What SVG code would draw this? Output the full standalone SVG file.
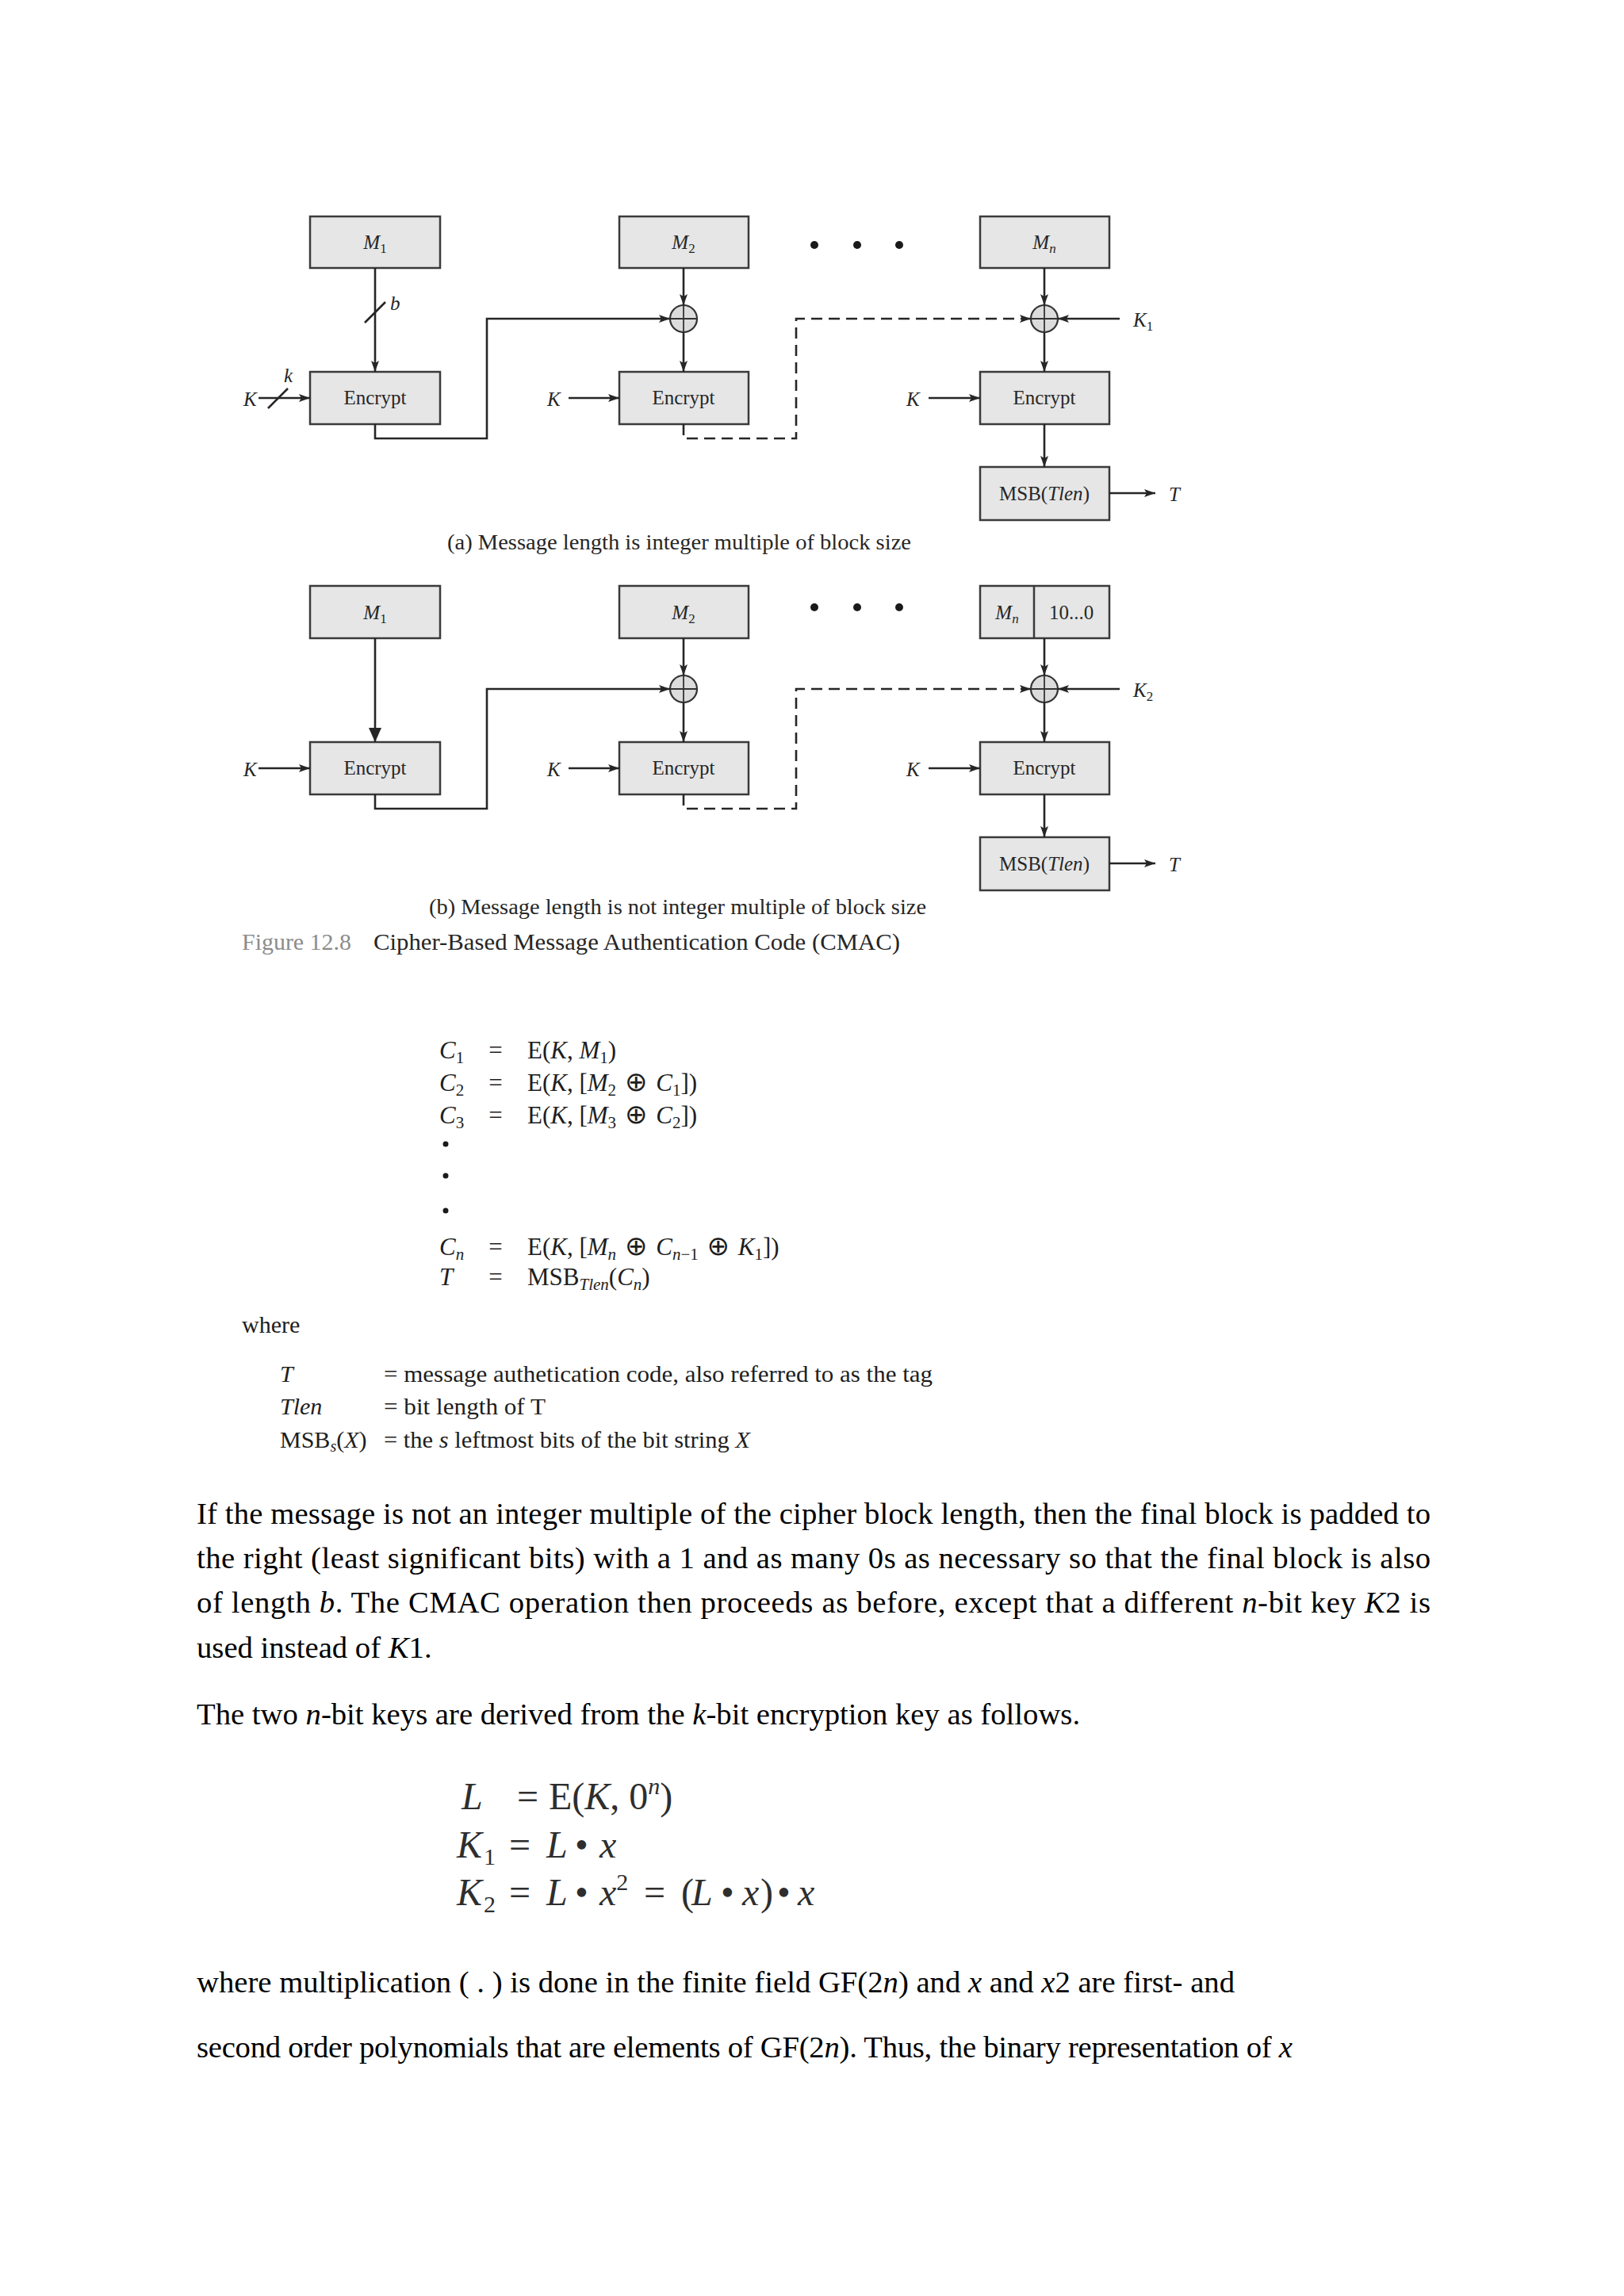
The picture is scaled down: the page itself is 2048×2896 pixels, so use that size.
<svg xmlns="http://www.w3.org/2000/svg" width="2048" height="2896" viewBox="0 0 2048 2896">
<defs>
<style>
.bg{fill:#ffffff}
.box{fill:#e6e6e6;stroke:#3a3a3a;stroke-width:2.5}
.ln{stroke:#262626;stroke-width:2.6;fill:none}
.dash{stroke-dasharray:14 8}
.xor{fill:#dcdcdc;stroke:#333;stroke-width:2.2}
.xl{stroke:#333;stroke-width:1.8}
.dt{font-family:"Liberation Serif","DejaVu Serif",serif;font-size:25px;fill:#262626}
.cap{font-family:"Liberation Serif","DejaVu Serif",serif;font-size:28px;fill:#262626}
.fig{font-family:"Liberation Serif","DejaVu Serif",serif;font-size:30px;fill:#262626}
.eq{font-family:"Liberation Serif","DejaVu Serif",serif;font-size:31px;fill:#1e1e1e}
.wh{font-family:"Liberation Serif","DejaVu Serif",serif;font-size:30px;fill:#1e1e1e}
.body{font-family:"Liberation Serif","DejaVu Serif",serif;font-size:38.7px;fill:#000}
.kf{font-family:"Liberation Serif","DejaVu Serif",serif;font-size:48px;fill:#2e2e2e}
.op{font-family:"DejaVu Sans",sans-serif;font-size:34px;font-style:normal}
.it{font-style:italic}
.up{font-style:normal}
.dot{fill:#1a1a1a}
</style>
<marker id="ah" viewBox="0 0 14 10" markerWidth="14" markerHeight="10" refX="14" refY="5" orient="auto" markerUnits="userSpaceOnUse">
<path d="M0,0 L14,5 L0,10 L3,5 z" fill="#262626"/>
</marker>
<marker id="ahb" viewBox="0 0 18 16" markerWidth="18" markerHeight="16" refX="18" refY="8" orient="auto" markerUnits="userSpaceOnUse">
<path d="M0,0 L18,8 L0,16 z" fill="#262626"/>
</marker>
</defs>
<rect class="bg" x="0" y="0" width="2048" height="2896"/>

<!-- ===== Diagram (a) ===== -->
<g id="a-M1"><rect class="box" x="391" y="273" width="164" height="65"/><text class="dt it" x="473" y="314" text-anchor="middle">M<tspan class="up" font-size="17" dy="5">1</tspan></text></g>
<g id="a-M2"><rect class="box" x="781" y="273" width="163" height="65"/><text class="dt it" x="862" y="314" text-anchor="middle">M<tspan class="up" font-size="17" dy="5">2</tspan></text></g>
<g id="a-Mn"><rect class="box" x="1236" y="273" width="163" height="65"/><text class="dt it" x="1317" y="314" text-anchor="middle">M<tspan font-size="17" dy="5">n</tspan></text></g>
<g id="a-dots"><circle class="dot" cx="1027" cy="309" r="5"/><circle class="dot" cx="1081" cy="309" r="5"/><circle class="dot" cx="1134" cy="309" r="5"/></g>
<g id="a-E1"><rect class="box" x="391" y="469" width="164" height="66"/><text class="dt" x="473" y="510" text-anchor="middle">Encrypt</text></g>
<g id="a-E2"><rect class="box" x="781" y="469" width="163" height="66"/><text class="dt" x="862" y="510" text-anchor="middle">Encrypt</text></g>
<g id="a-E3"><rect class="box" x="1236" y="469" width="163" height="66"/><text class="dt" x="1317" y="510" text-anchor="middle">Encrypt</text></g>
<g id="a-MSB"><rect class="box" x="1236" y="589" width="163" height="67"/><text class="dt" x="1317" y="631" text-anchor="middle">MSB(<tspan class="it">Tlen</tspan>)</text></g>
<g id="a-X2"><circle class="xor" cx="862" cy="402" r="17"/><line class="xl" x1="845" y1="402" x2="879" y2="402"/><line class="xl" x1="862" y1="385" x2="862" y2="419"/></g>
<g id="a-X3"><circle class="xor" cx="1317" cy="402" r="17"/><line class="xl" x1="1300" y1="402" x2="1334" y2="402"/><line class="xl" x1="1317" y1="385" x2="1317" y2="419"/></g>
<g id="a-labels">
<text class="dt it" x="307" y="512">K</text>
<text class="dt it" x="358" y="482" font-size="23">k</text>
<text class="dt it" x="492" y="391" font-size="23">b</text>
<text class="dt it" x="690" y="512">K</text>
<text class="dt it" x="1143" y="512">K</text>
<text class="dt it" x="1429" y="412">K<tspan class="up" font-size="17" dy="5">1</tspan></text>
<text class="dt it" x="1474" y="632">T</text>
</g>
<g id="a-connectors">
<line class="ln" x1="473" y1="338" x2="473" y2="469" marker-end="url(#ah)"/>
<line class="ln" x1="460" y1="407" x2="486" y2="381"/>
<line class="ln" x1="326" y1="502" x2="391" y2="502" marker-end="url(#ah)"/>
<line class="ln" x1="338" y1="515" x2="363" y2="490"/>
<path class="ln" d="M473,535 V553 H614 V402 H845" marker-end="url(#ah)"/>
<line class="ln" x1="862" y1="338" x2="862" y2="385" marker-end="url(#ah)"/>
<line class="ln" x1="862" y1="419" x2="862" y2="469" marker-end="url(#ah)"/>
<line class="ln" x1="717" y1="502" x2="781" y2="502" marker-end="url(#ah)"/>
<path class="ln dash" d="M862,535 V553 H1004 V402 H1300" marker-end="url(#ah)"/>
<line class="ln" x1="1317" y1="338" x2="1317" y2="385" marker-end="url(#ah)"/>
<line class="ln" x1="1412" y1="402" x2="1334" y2="402" marker-end="url(#ah)"/>
<line class="ln" x1="1317" y1="419" x2="1317" y2="469" marker-end="url(#ah)"/>
<line class="ln" x1="1171" y1="502" x2="1236" y2="502" marker-end="url(#ah)"/>
<line class="ln" x1="1317" y1="535" x2="1317" y2="589" marker-end="url(#ah)"/>
<line class="ln" x1="1399" y1="622" x2="1457" y2="622" marker-end="url(#ah)"/>
</g>
<text class="cap" x="564" y="693" textLength="585" lengthAdjust="spacingAndGlyphs">(a) Message length is integer multiple of block size</text>

<!-- ===== Diagram (b) ===== -->
<g id="b-M1"><rect class="box" x="391" y="739" width="164" height="66"/><text class="dt it" x="473" y="781" text-anchor="middle">M<tspan class="up" font-size="17" dy="5">1</tspan></text></g>
<g id="b-M2"><rect class="box" x="781" y="739" width="163" height="66"/><text class="dt it" x="862" y="781" text-anchor="middle">M<tspan class="up" font-size="17" dy="5">2</tspan></text></g>
<g id="b-Mn"><rect class="box" x="1236" y="739" width="163" height="66"/><line x1="1304" y1="739" x2="1304" y2="805" style="stroke:#3a3a3a;stroke-width:2.5"/><text class="dt it" x="1270" y="781" text-anchor="middle">M<tspan font-size="17" dy="5">n</tspan></text><text class="dt" x="1351" y="781" text-anchor="middle">10...0</text></g>
<g id="b-dots"><circle class="dot" cx="1027" cy="766" r="5"/><circle class="dot" cx="1081" cy="766" r="5"/><circle class="dot" cx="1134" cy="766" r="5"/></g>
<g id="b-E1"><rect class="box" x="391" y="936" width="164" height="66"/><text class="dt" x="473" y="977" text-anchor="middle">Encrypt</text></g>
<g id="b-E2"><rect class="box" x="781" y="936" width="163" height="66"/><text class="dt" x="862" y="977" text-anchor="middle">Encrypt</text></g>
<g id="b-E3"><rect class="box" x="1236" y="936" width="163" height="66"/><text class="dt" x="1317" y="977" text-anchor="middle">Encrypt</text></g>
<g id="b-MSB"><rect class="box" x="1236" y="1056" width="163" height="67"/><text class="dt" x="1317" y="1098" text-anchor="middle">MSB(<tspan class="it">Tlen</tspan>)</text></g>
<g id="b-X2"><circle class="xor" cx="862" cy="869" r="17"/><line class="xl" x1="845" y1="869" x2="879" y2="869"/><line class="xl" x1="862" y1="852" x2="862" y2="886"/></g>
<g id="b-X3"><circle class="xor" cx="1317" cy="869" r="17"/><line class="xl" x1="1300" y1="869" x2="1334" y2="869"/><line class="xl" x1="1317" y1="852" x2="1317" y2="886"/></g>
<g id="b-labels">
<text class="dt it" x="307" y="979">K</text>
<text class="dt it" x="690" y="979">K</text>
<text class="dt it" x="1143" y="979">K</text>
<text class="dt it" x="1429" y="879">K<tspan class="up" font-size="17" dy="5">2</tspan></text>
<text class="dt it" x="1474" y="1099">T</text>
</g>
<g id="b-connectors">
<line class="ln" x1="473" y1="805" x2="473" y2="936" marker-end="url(#ahb)"/>
<line class="ln" x1="326" y1="969" x2="391" y2="969" marker-end="url(#ah)"/>
<path class="ln" d="M473,1002 V1020 H614 V869 H845" marker-end="url(#ah)"/>
<line class="ln" x1="862" y1="805" x2="862" y2="852" marker-end="url(#ah)"/>
<line class="ln" x1="862" y1="886" x2="862" y2="936" marker-end="url(#ah)"/>
<line class="ln" x1="717" y1="969" x2="781" y2="969" marker-end="url(#ah)"/>
<path class="ln dash" d="M862,1002 V1020 H1004 V869 H1300" marker-end="url(#ah)"/>
<line class="ln" x1="1317" y1="805" x2="1317" y2="852" marker-end="url(#ah)"/>
<line class="ln" x1="1412" y1="869" x2="1334" y2="869" marker-end="url(#ah)"/>
<line class="ln" x1="1317" y1="886" x2="1317" y2="936" marker-end="url(#ah)"/>
<line class="ln" x1="1171" y1="969" x2="1236" y2="969" marker-end="url(#ah)"/>
<line class="ln" x1="1317" y1="1002" x2="1317" y2="1056" marker-end="url(#ah)"/>
<line class="ln" x1="1399" y1="1089" x2="1457" y2="1089" marker-end="url(#ah)"/>
</g>
<text class="cap" x="541" y="1153" textLength="627" lengthAdjust="spacingAndGlyphs">(b) Message length is not integer multiple of block size</text>
<text class="fig" x="305" y="1198" style="fill:#8c8c8c" textLength="138" lengthAdjust="spacingAndGlyphs">Figure 12.8</text>
<text class="fig" x="471" y="1198" textLength="664" lengthAdjust="spacingAndGlyphs">Cipher-Based Message Authentication Code (CMAC)</text>

<!-- ===== Equations ===== -->
<g id="equations">
<text class="eq it" x="554" y="1335">C<tspan class="up" font-size="21" dy="6">1</tspan></text>
<text class="eq" x="625" y="1335" text-anchor="middle">=</text>
<text class="eq" x="665" y="1335">E(<tspan class="it">K</tspan>, <tspan class="it">M</tspan><tspan font-size="21" dy="6">1</tspan><tspan dy="-6">)</tspan></text>

<text class="eq it" x="554" y="1376">C<tspan class="up" font-size="21" dy="6">2</tspan></text>
<text class="eq" x="625" y="1376" text-anchor="middle">=</text>
<text class="eq" x="665" y="1376">E(<tspan class="it">K</tspan>, [<tspan class="it">M</tspan><tspan font-size="21" dy="6">2</tspan><tspan class="op" dy="-6"> ⊕ </tspan><tspan class="it">C</tspan><tspan font-size="21" dy="6">1</tspan><tspan dy="-6">])</tspan></text>

<text class="eq it" x="554" y="1417">C<tspan class="up" font-size="21" dy="6">3</tspan></text>
<text class="eq" x="625" y="1417" text-anchor="middle">=</text>
<text class="eq" x="665" y="1417">E(<tspan class="it">K</tspan>, [<tspan class="it">M</tspan><tspan font-size="21" dy="6">3</tspan><tspan class="op" dy="-6"> ⊕ </tspan><tspan class="it">C</tspan><tspan font-size="21" dy="6">2</tspan><tspan dy="-6">])</tspan></text>

<circle class="dot" cx="562" cy="1443" r="3.5"/>
<circle class="dot" cx="562" cy="1483" r="3.5"/>
<circle class="dot" cx="562" cy="1527" r="3.5"/>

<text class="eq it" x="554" y="1583">C<tspan font-size="21" dy="6">n</tspan></text>
<text class="eq" x="625" y="1583" text-anchor="middle">=</text>
<text class="eq" x="665" y="1583">E(<tspan class="it">K</tspan>, [<tspan class="it">M</tspan><tspan class="it" font-size="21" dy="6">n</tspan><tspan class="op" dy="-6"> ⊕ </tspan><tspan class="it">C</tspan><tspan font-size="21" dy="6"><tspan class="it">n</tspan>−1</tspan><tspan class="op" dy="-6"> ⊕ </tspan><tspan class="it">K</tspan><tspan font-size="21" dy="6">1</tspan><tspan dy="-6">])</tspan></text>

<text class="eq it" x="554" y="1621">T</text>
<text class="eq" x="625" y="1621" text-anchor="middle">=</text>
<text class="eq" x="665" y="1621">MSB<tspan class="it" font-size="21" dy="6">Tlen</tspan><tspan dy="-6">(</tspan><tspan class="it">C</tspan><tspan class="it" font-size="21" dy="6">n</tspan><tspan dy="-6">)</tspan></text>
</g>

<!-- ===== where block ===== -->
<g id="where">
<text class="wh" x="305" y="1681">where</text>
<text class="wh it" x="353" y="1743">T</text>
<text class="wh" x="484" y="1743" textLength="692" lengthAdjust="spacingAndGlyphs">= message authetication code, also referred to as the tag</text>
<text class="wh it" x="353" y="1784">Tlen</text>
<text class="wh" x="484" y="1784" textLength="204" lengthAdjust="spacingAndGlyphs">= bit length of T</text>
<text class="wh" x="353" y="1826">MSB<tspan class="it" font-size="20" dy="5">s</tspan><tspan dy="-5">(</tspan><tspan class="it">X</tspan>)</text>
<text class="wh" x="484" y="1826" textLength="462" lengthAdjust="spacingAndGlyphs">= the <tspan class="it">s</tspan> leftmost bits of the bit string <tspan class="it">X</tspan></text>
</g>

<!-- ===== Body text ===== -->
<g id="paragraph1">
<text class="body" x="248" y="1922" textLength="1556" lengthAdjust="spacing">If the message is not an integer multiple of the cipher block length, then the final block is padded to</text>
<text class="body" x="248" y="1978" textLength="1556" lengthAdjust="spacing">the right (least significant bits) with a 1 and as many 0s as necessary so that the final block is also</text>
<text class="body" x="248" y="2034" textLength="1556" lengthAdjust="spacing">of length <tspan class="it">b</tspan>. The CMAC operation then proceeds as before, except that a different <tspan class="it">n</tspan>-bit key <tspan class="it">K</tspan>2 is</text>
<text class="body" x="248" y="2091">used instead of <tspan class="it">K</tspan>1.</text>
</g>
<text class="body" x="248" y="2175">The two <tspan class="it">n</tspan>-bit keys are derived from the <tspan class="it">k</tspan>-bit encryption key as follows.</text>

<g id="key-formulas">
<text class="kf" y="2282"><tspan x="582" class="it">L</tspan><tspan x="652">=</tspan><tspan x="692">E(</tspan><tspan class="it">K</tspan><tspan>, 0</tspan><tspan class="it" font-size="30" dy="-19">n</tspan><tspan dy="19">)</tspan></text>
<text class="kf" y="2343"><tspan x="576" class="it">K</tspan><tspan font-size="30" dx="2" dy="9">1</tspan><tspan x="642" dy="-9">=</tspan><tspan x="689" class="it">L</tspan><tspan x="725">•</tspan><tspan x="756" class="it">x</tspan></text>
<text class="kf" y="2403"><tspan x="576" class="it">K</tspan><tspan font-size="30" dx="2" dy="9">2</tspan><tspan x="642" dy="-9">=</tspan><tspan x="689" class="it">L</tspan><tspan x="725">•</tspan><tspan x="756" class="it">x</tspan><tspan font-size="30" dy="-19">2</tspan><tspan x="812" dy="19">=</tspan><tspan x="859">(</tspan><tspan x="872" class="it">L</tspan><tspan x="909">•</tspan><tspan x="936" class="it">x</tspan><tspan x="959">)</tspan><tspan x="980">•</tspan><tspan x="1006" class="it">x</tspan></text>
</g>

<g id="paragraph3">
<text class="body" x="248" y="2513" textLength="1309" lengthAdjust="spacing">where multiplication ( . ) is done in the finite field GF(2<tspan class="it">n</tspan>) and <tspan class="it">x</tspan> and <tspan class="it">x</tspan>2 are first- and</text>
<text class="body" x="248" y="2595" textLength="1382" lengthAdjust="spacing">second order polynomials that are elements of GF(2<tspan class="it">n</tspan>). Thus, the binary representation of <tspan class="it">x</tspan></text>
</g>
</svg>
